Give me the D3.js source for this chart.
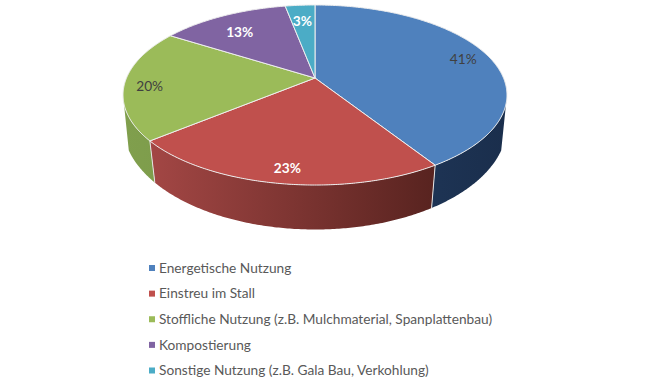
<!DOCTYPE html>
<html>
<head>
<meta charset="utf-8">
<script src="https://cdn.jsdelivr.net/npm/d3@7"></script>
<style>
  body { margin:0; background:#fff; }
  text { font-family:Lato, "Open Sans", sans-serif; }
</style>
</head>
<body>
<div id="vis-container"></div>
<script>
//data
const categories = ["Energetische Nutzung", "Einstreu im Stall",
  "Stoffliche Nutzung (z.B. Mulchmaterial, Spanplattenbau)",
  "Kompostierung", "Sonstige Nutzung (z.B. Gala Bau, Verkohlung)"];
const values = [41, 23, 20, 13, 3];
const colors = ["#4f81bd", "#c0504d", "#9bbb59", "#8064a2", "#4bacc6"];
//wall colours, left end and right end of the pie
const wallLeft = ["#2b4a75", "#aa4a48", "#809f4d", "#5f4a7a", "#37879b"];
const wallRight = ["#1a2e4c", "#451a16", "#6a8a3c", "#3f3055", "#25606f"];
const labelColors = ["#404040", "#fff", "#404040", "#fff", "#fff"];
const labelWeights = [400, 700, 400, 700, 700];

let width = 646, height = 383;
let svg = d3.select("#vis-container").append("svg")
  .attr("width", width).attr("height", height)
  .style("display", "block");

//perspective of the disc: unit circle -> screen
let cx = 315, cy = 78, rx = 188.5, ry = 86.8, k = 0.189;
function topPt(a, r = 1){
  let u = r*Math.sin(a), v = -r*Math.cos(a), w = 1 - k*v;
  return [cx + rx*u/w, cy + ry*v/w];
}
//lower rim of the disc, a bit narrower and deeper than the top
function bottomPt(a){
  let dx = 0.97*(topPt(a)[0]-cx);
  return [cx + dx, 125 + 104.5*Math.sqrt(1 - (dx/192)*(dx/192))];
}

let pie = d3.pie().sort(null).value(d=>d);
let arcs = pie(values);
let line = d3.line();

function samples(a0, a1){
  let n = Math.max(2, Math.ceil((a1-a0)/0.01));
  return d3.range(n+1).map(i=>a0 + (a1-a0)*i/n);
}

//gradients for the walls
let defs = svg.append("defs");
let grads = defs.selectAll("linearGradient").data(arcs).enter().append("linearGradient")
  .attr("id", (d,i)=>"wall"+i)
  .attr("gradientUnits", "userSpaceOnUse")
  .attr("x1", 123).attr("x2", 507).attr("y1", 0).attr("y2", 0);
grads.append("stop").attr("offset", 0).attr("stop-color", (d,i)=>wallLeft[i]);
grads.append("stop").attr("offset", 1).attr("stop-color", (d,i)=>wallRight[i]);

//walls, only the part facing the viewer (between the widest points of the rim)
let visFrom = Math.PI - Math.acos(k), visTo = 2*Math.PI - visFrom;
let gWalls = svg.append("g");
arcs.forEach((d,i)=>{
  let a0 = Math.max(d.startAngle, visFrom), a1 = Math.min(d.endAngle, visTo);
  if(a1 <= a0) return;
  let s = samples(a0, a1);
  let pts = s.map(a=>topPt(a)).concat(s.slice().reverse().map(a=>bottomPt(a)));
  gWalls.append("path")
    .attr("d", line(pts) + "Z")
    .attr("fill", `url(#wall${i})`);
});
//light seams where slices meet on the wall
arcs.forEach(d=>{
  if(d.startAngle > visFrom && d.startAngle < visTo){
    gWalls.append("path")
      .attr("d", line([topPt(d.startAngle), bottomPt(d.startAngle)]))
      .attr("stroke", "#e4e4e4").attr("stroke-width", 1).attr("fill", "none");
  }
});

//top faces
svg.append("g").selectAll("path").data(arcs).enter().append("path")
  .attr("d", d=>line([[cx,cy]].concat(samples(d.startAngle, d.endAngle).map(a=>topPt(a)))) + "Z")
  .attr("fill", (d,i)=>colors[i])
  .attr("stroke", "#eee")
  .attr("stroke-width", 1)
  .attr("stroke-linejoin", "round");

//labels
const labelRadius = [0.85, 0.87, 0.87, 0.74, 0.75];
const labelNudge = [[1,1], [3,1], [0,3], [-5,2], [-1,0]];
svg.append("g").selectAll("text").data(arcs).enter().append("text")
  .attr("x", (d,i)=>topPt((d.startAngle+d.endAngle)/2, labelRadius[i])[0] + labelNudge[i][0])
  .attr("y", (d,i)=>topPt((d.startAngle+d.endAngle)/2, labelRadius[i])[1] + labelNudge[i][1])
  .attr("dy", "0.35em")
  .attr("text-anchor", "middle")
  .attr("font-size", "13.7px")
  .attr("font-weight", (d,i)=>labelWeights[i])
  .attr("fill", (d,i)=>labelColors[i])
  .text(d=>d.value + "%");

//legend
let yLegend = d3.scalePoint().domain(categories).range([268, 370.5]);
let legend = svg.append("g").selectAll("g").data(categories).enter().append("g")
  .attr("transform", d=>`translate(149,${yLegend(d)})`);
legend.append("rect")
  .attr("x", 0).attr("y", -3)
  .attr("width", 6).attr("height", 6)
  .attr("fill", (d,i)=>colors[i]);
legend.append("text")
  .attr("x", 10).attr("dy", "0.35em")
  .attr("font-size", "13.7px")
  .attr("fill", "#595959")
  .text(d=>d);
</script>
</body>
</html>
